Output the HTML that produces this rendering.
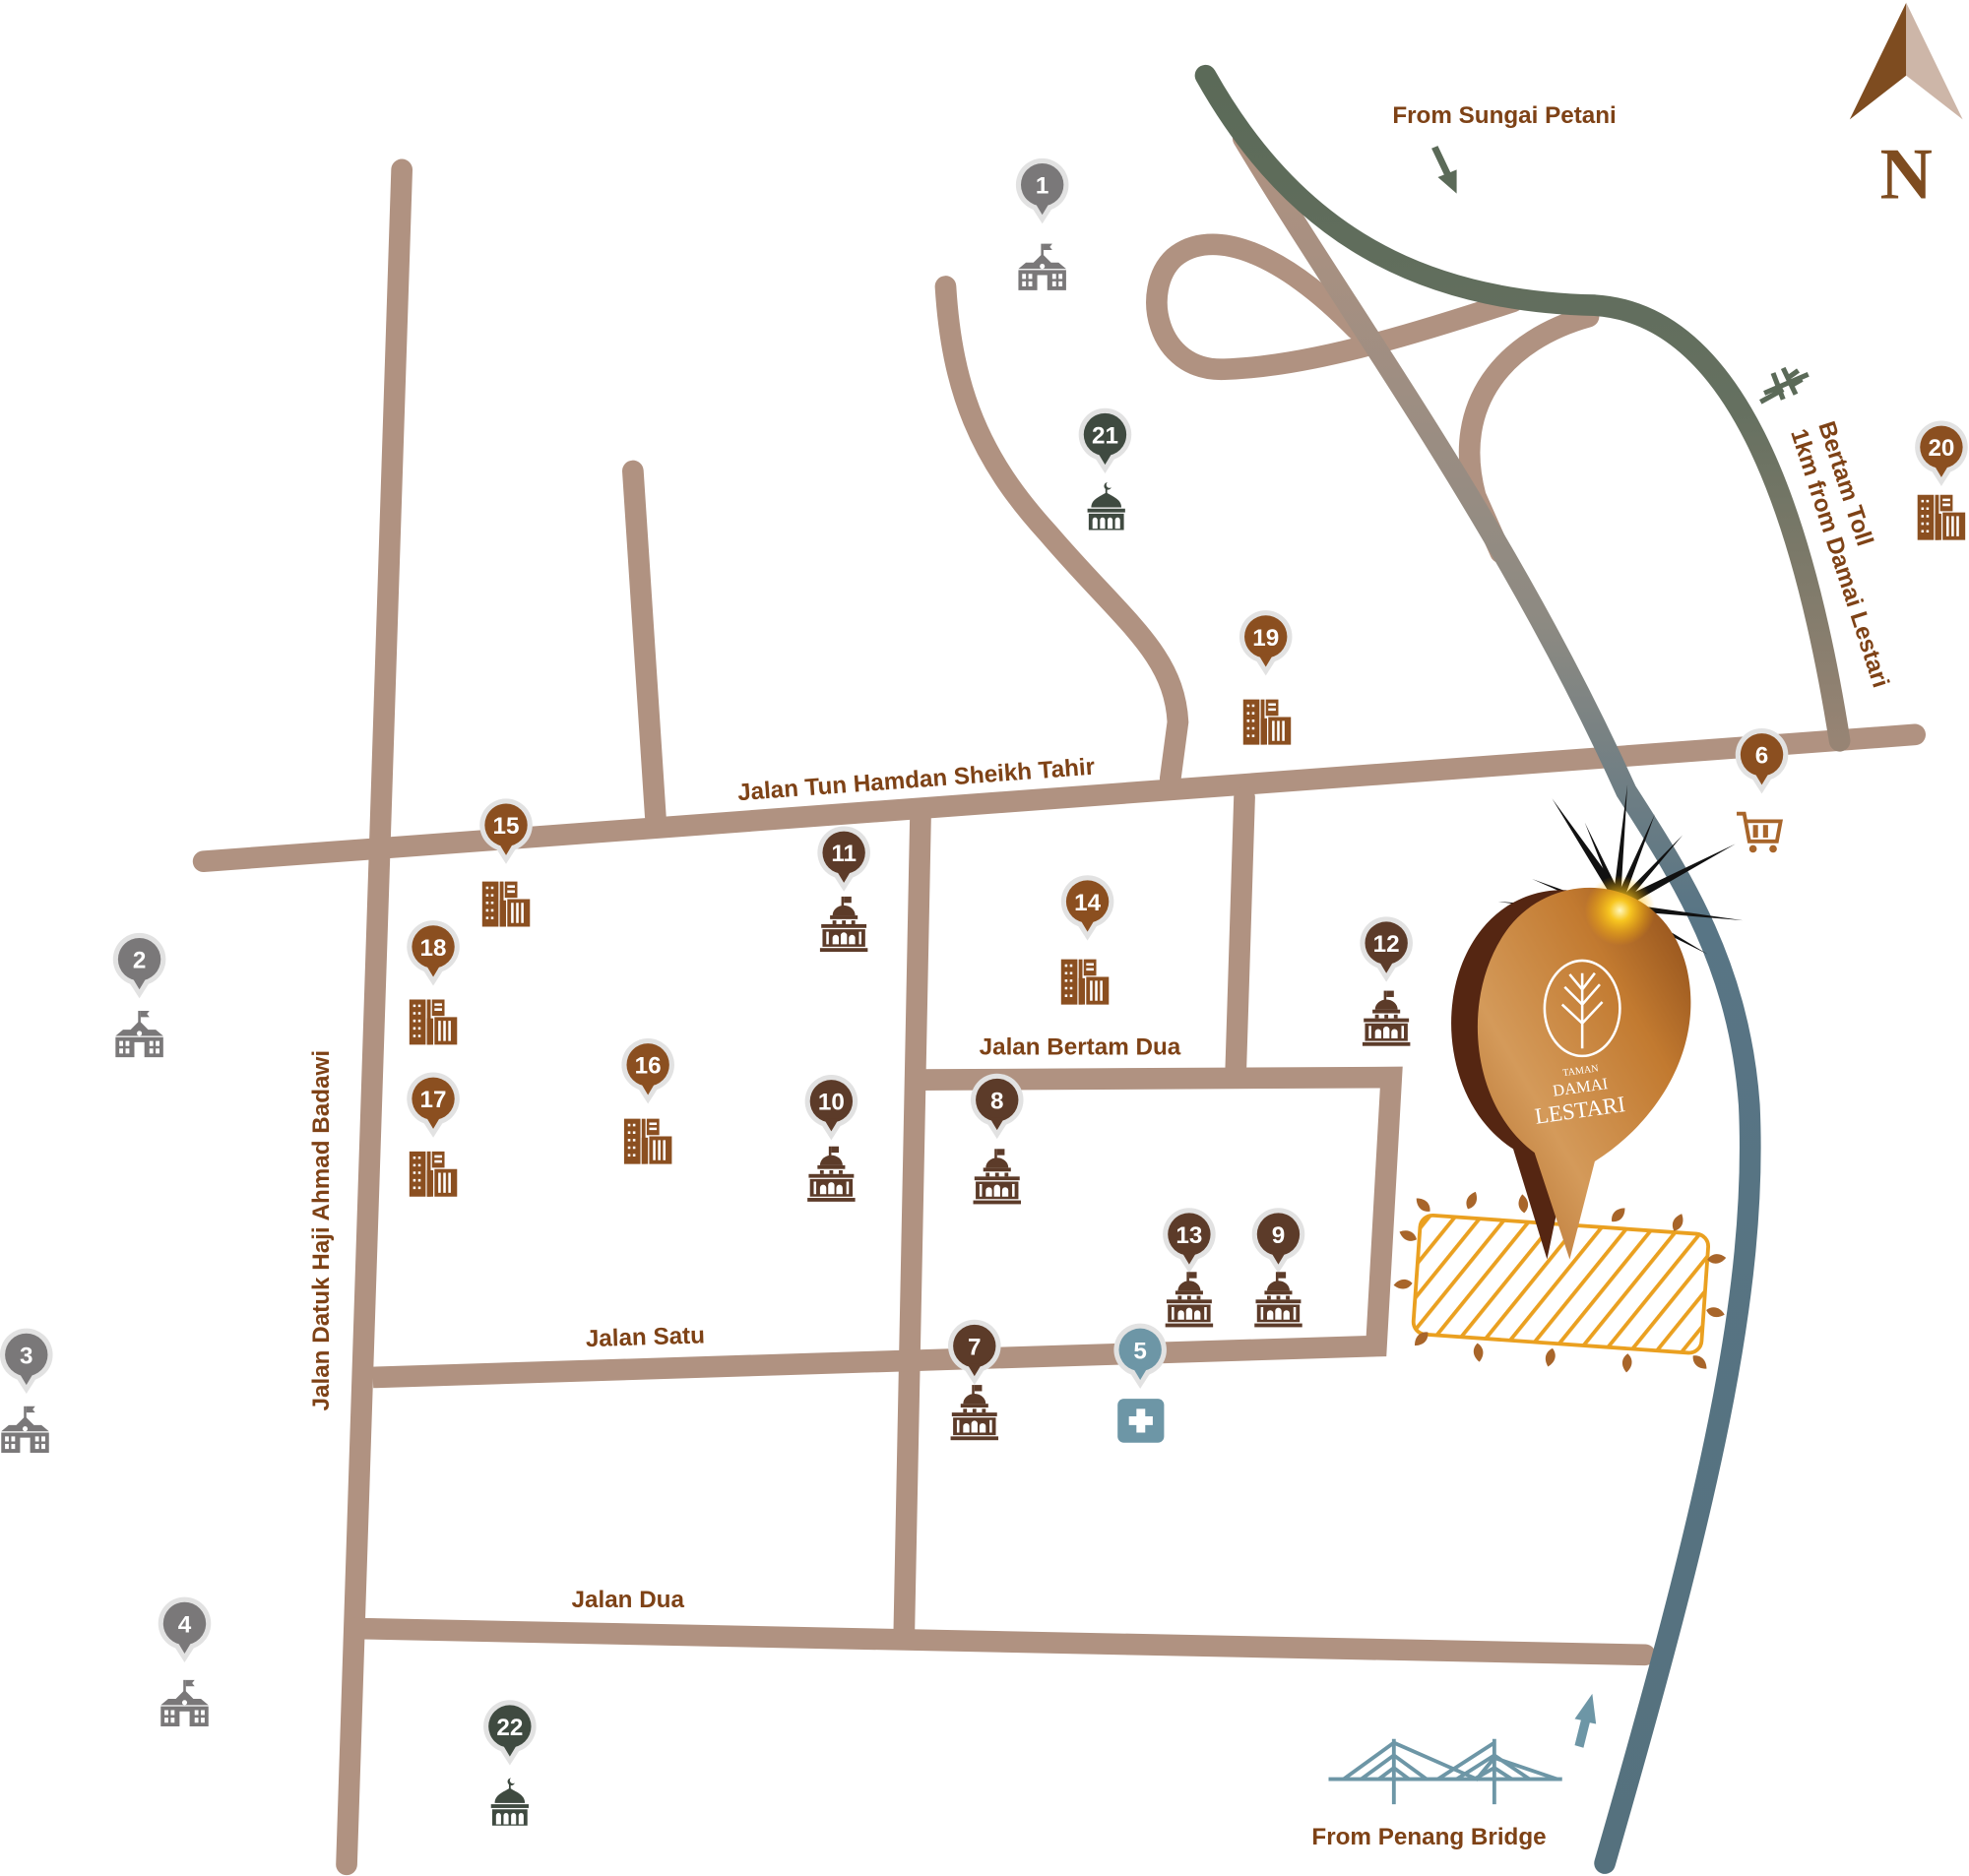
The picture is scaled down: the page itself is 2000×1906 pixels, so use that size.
<!DOCTYPE html>
<html><head><meta charset="utf-8"><style>
html,body{margin:0;padding:0;background:#fff}
svg{display:block}
text{font-family:"Liberation Sans",sans-serif;font-weight:bold}
.lbl{fill:#7e4216;font-size:19px}
.num{fill:#fff;font-size:19px;text-anchor:middle}
</style></head><body>
<svg width="2000" height="1906" viewBox="0 0 1568 1494" xmlns="http://www.w3.org/2000/svg">
<defs>
<linearGradient id="gA" x1="0" y1="0" x2="0" y2="1" gradientUnits="objectBoundingBox">
<stop offset="0" stop-color="#5b6a58"/><stop offset="0.5" stop-color="#657060"/><stop offset="1" stop-color="#978474"/></linearGradient>
<linearGradient id="gB" x1="0" y1="0" x2="0" y2="1">
<stop offset="0" stop-color="#b09281"/><stop offset="0.28" stop-color="#8d8a82"/><stop offset="0.45" stop-color="#587585"/><stop offset="1" stop-color="#55717e"/></linearGradient>
<linearGradient id="gPin" x1="0" y1="1" x2="1" y2="0">
<stop offset="0" stop-color="#b06a28"/><stop offset="0.35" stop-color="#d49a5a"/><stop offset="0.7" stop-color="#c27a30"/><stop offset="1" stop-color="#8a4a18"/></linearGradient>
<radialGradient id="glow"><stop offset="0" stop-color="#fff8c0"/><stop offset="0.3" stop-color="#ffd020" stop-opacity="0.9"/><stop offset="1" stop-color="#ffb000" stop-opacity="0"/></radialGradient>
<pattern id="hatch" width="16" height="16" patternUnits="userSpaceOnUse" patternTransform="rotate(35)">
<rect width="16" height="16" fill="#fff"/><rect width="3" height="16" fill="#eaa020"/></pattern>
<g id="pin"><circle r="21" fill="#e2e2e2"/><path d="M-9,17 L0,31 L9,17Z" fill="#e2e2e2"/><circle r="17"/><path d="M-6,14 L0,24 L6,14Z"/></g>
<g id="gov"><rect x="-2" y="-24" width="2" height="8"/><rect x="0" y="-24" width="6" height="5"/><path d="M-9,-9 A9,8 0 0 1 9,-9Z"/><rect x="-11" y="-9" width="22" height="3"/><rect x="-9" y="-5" width="3" height="3"/><rect x="-1.5" y="-5" width="3" height="3"/><rect x="6" y="-5" width="3" height="3"/><rect x="-18" y="-2" width="36" height="3"/><path d="M-17,2 h34 v14 h-34Z M-14,4 v10 h2 v-10Z M14,4 v10 h-2 v-10Z M-9,14 v-5 a2.5,2.5 0 0 1 5,0 v5Z M-2.5,14 v-7 a2.5,2.5 0 0 1 5,0 v7Z M4,14 v-5 a2.5,2.5 0 0 1 5,0 v5Z" fill-rule="evenodd"/><rect x="-19" y="17" width="38" height="3"/></g>
<g id="bld"><path d="M-19,-17 h13 v36 h-13Z M-16,-13 v2 h2 v-2Z M-12,-13 v2 h2 v-2Z M-16,-7 v2 h2 v-2Z M-12,-7 v2 h2 v-2Z M-16,-1 v2 h2 v-2Z M-12,-1 v2 h2 v-2Z M-16,5 v2 h2 v-2Z M-12,5 v2 h2 v-2Z M-16,11 v2 h2 v-2Z M-12,11 v2 h2 v-2Z" fill-rule="evenodd"/><rect x="-5" y="-17" width="3" height="36"/><rect x="-5" y="-2" width="5" height="21"/><path d="M-1,-17 h10 v13 h-10Z M1,-14 v2 h6 v-2Z M1,-10 v2 h6 v-2Z" fill-rule="evenodd"/><path d="M1,-3 h18 v22 h-18Z M4,0 v16 h2 v-16Z M8,0 v16 h2 v-16Z M12,0 v16 h2 v-16Z" fill-rule="evenodd"/></g>
<g id="sch"><rect x="-1" y="-22" width="2" height="12"/><path d="M1,-22 h7 l-2,2.5 2,2.5 h-7Z"/><path d="M-19,-2 l6,-5 h6 l7,-7 7,7 h6 l6,5Z"/><path d="M-19,-1 h38 v16 h-38Z M-16,2 v4 h3 v-4Z M-11,2 v4 h3 v-4Z M8,2 v4 h3 v-4Z M13,2 v4 h3 v-4Z M-16,8 v4 h3 v-4Z M-11,8 v4 h3 v-4Z M8,8 v4 h3 v-4Z M13,8 v4 h3 v-4Z M-4,3 v12 h8 v-12Z" fill-rule="evenodd"/><circle cx="0" cy="-4" r="2" fill="#fff"/></g>
<g id="msq"><path d="M1,-22 a3,3 0 1 0 3,4 a2.3,2.3 0 1 1 -3,-4Z"/><rect x="-0.7" y="-17" width="1.4" height="4"/><path d="M-12,-2 C-12,-9 -4,-11 0,-14 C4,-11 12,-9 12,-2Z"/><rect x="-15" y="-1" width="30" height="3"/><path d="M-14,3 h28 v13 h-28Z M-11,15 v-7 a2,2 0 0 1 4,0 v7Z M-5,15 v-7 a2,2 0 0 1 4,0 v7Z M1,15 v-7 a2,2 0 0 1 4,0 v7Z M7,15 v-7 a2,2 0 0 1 4,0 v7Z" fill-rule="evenodd"/></g>
<path id="leaf" d="M0,0 C5,-4 5,-10 0,-15 C-5,-10 -5,-4 0,0Z"/>
</defs>

<!-- roads -->
<g fill="none" stroke="#b09281" stroke-width="17" stroke-linecap="round" stroke-linejoin="miter">
<path d="M320,135 L276,1485"/>
<path d="M162,686 L1525,585"/>
<path d="M504,375 L522,650"/>
<path d="M753,228 C758,310 780,365 835,425 C895,495 935,520 938,575 L932,620"/>
<path d="M733,652 L720,1298"/>
<path d="M991,635 L984,856"/>
<path d="M730,860 L1108,858 L1096,1072 L297,1097" stroke-linecap="butt"/>
<path d="M283,1297 L1310,1318"/>
<path d="M1205,240 C1120,268 1040,292 975,294 C920,296 908,230 935,205 C965,180 1020,200 1080,262"/>
<path d="M1265,252 C1200,270 1155,320 1175,395 L1195,440"/>
</g>
<!-- highways -->
<path d="M990,110 C1080,260 1200,420 1295,630 C1340,700 1385,770 1393,880 C1400,1030 1360,1200 1278,1484" fill="none" stroke="url(#gB)" stroke-width="17" stroke-linecap="round"/>
<path d="M960,60 C1030,185 1130,240 1270,243 C1380,250 1435,400 1465,590" fill="none" stroke="url(#gA)" stroke-width="17" stroke-linecap="round"/>

<!-- North -->
<path d="M1518,2 L1473,95 L1518,60Z" fill="#7e4c20"/>
<path d="M1518,2 L1563,95 L1518,60Z" fill="#cdb6a8"/>
<text x="1518" y="158" font-size="58" fill="#7e4c20" text-anchor="middle" style="font-family:'Liberation Serif',serif">N</text>

<!-- labels -->
<text class="lbl" x="1198" y="98" text-anchor="middle">From Sungai Petani</text>
<path d="M1140,118 L1150,139 L1145,141 L1160,154 L1160,135 L1155,137 L1145,116Z" fill="#5b6a58"/>
<text class="lbl" x="1138" y="1469" text-anchor="middle">From Penang Bridge</text>
<path d="M1254,1390 L1259,1370 L1254,1369 L1268,1349 L1271,1373 L1266,1372 L1261,1392Z" fill="#6d96a6"/>
<g stroke="#6d96a6" stroke-width="3" fill="none">
<path d="M1058,1417 H1244"/><path d="M1110,1385 V1437 M1190,1385 V1437"/>
<path d="M1070,1417 L1110,1388 L1176,1417 L1190,1400 L1240,1417"/>
<path d="M1145,1417 L1190,1388 M1084,1417 L1110,1398 L1136,1417 M1098,1417 L1110,1408 L1122,1417 M1160,1417 L1190,1398 L1218,1417 M1174,1417 L1190,1408 L1204,1417 M1176,1417 L1190,1400"/>
</g>
<text class="lbl" transform="translate(730,627) rotate(-4.2)" text-anchor="middle">Jalan Tun Hamdan Sheikh Tahir</text>
<text class="lbl" x="860" y="840" text-anchor="middle">Jalan Bertam Dua</text>
<text class="lbl" transform="translate(514,1071) rotate(-1.8)" text-anchor="middle">Jalan Satu</text>
<text class="lbl" x="500" y="1280" text-anchor="middle">Jalan Dua</text>
<text class="lbl" transform="translate(262,980) rotate(-90)" text-anchor="middle">Jalan Datuk Haji Ahmad Badawi</text>
<text class="lbl" transform="translate(1448,338) rotate(72)" font-size="18">Bertam Toll</text>
<text class="lbl" transform="translate(1426,344) rotate(72)" font-size="18">1km from Damai Lestari</text>
<g stroke="#5b6a58" stroke-width="4" fill="none"><path d="M1405,313 L1440,298 M1402,320 L1420,310 M1412,297 L1420,318 M1420,293 L1430,314 M1425,300 L1432,295 M1428,306 L1435,302"/></g>

<!-- hatched site -->
<g transform="rotate(4 1240 1022)">
<rect x="1128" y="975" width="230" height="95" rx="10" fill="url(#hatch)" stroke="#eaa020" stroke-width="3"/>
<g fill="#a8652a">
<use href="#leaf" transform="translate(1135,972) rotate(-50)"/><use href="#leaf" transform="translate(1165,968) rotate(20)"/><use href="#leaf" transform="translate(1210,968) rotate(-10)"/><use href="#leaf" transform="translate(1280,970) rotate(40)"/><use href="#leaf" transform="translate(1330,974) rotate(20)"/><use href="#leaf" transform="translate(1358,995) rotate(80)"/><use href="#leaf" transform="translate(1360,1035) rotate(100)"/><use href="#leaf" transform="translate(1352,1072) rotate(130)"/><use href="#leaf" transform="translate(1300,1074) rotate(180)"/><use href="#leaf" transform="translate(1240,1074) rotate(190)"/><use href="#leaf" transform="translate(1180,1074) rotate(170)"/><use href="#leaf" transform="translate(1140,1068) rotate(220)"/><use href="#leaf" transform="translate(1125,1030) rotate(260)"/><use href="#leaf" transform="translate(1126,995) rotate(290)"/>
</g></g>

<!-- sparkle -->
<g fill="#111">
<path d="M1290,725 L1236,636 L1296,718Z"/><path d="M1290,725 L1296,625 L1284,720Z"/><path d="M1290,725 L1318,648 L1284,722Z"/><path d="M1290,725 L1382,672 L1286,718Z"/><path d="M1290,725 L1388,733 L1290,719Z"/><path d="M1290,725 L1360,760 L1292,719Z"/><path d="M1290,725 L1193,718 L1290,731Z"/><path d="M1290,725 L1262,655 L1294,720Z"/><path d="M1290,725 L1340,665 L1286,720Z"/><path d="M1290,725 L1220,700 L1290,731Z"/>
</g>
<!-- big pin -->
<path d="M1232,1003 L1205,915 C1150,880 1140,790 1180,740 C1220,690 1300,700 1320,770 C1335,830 1300,890 1248,925Z" fill="#552612"/>
<path d="M1250,1003 L1222,918 C1170,880 1162,790 1202,738 C1242,688 1325,698 1343,770 C1358,832 1322,892 1270,925Z" fill="url(#gPin)"/>
<circle cx="1290" cy="725" r="28" fill="url(#glow)"/>
<ellipse cx="1260" cy="803" rx="30" ry="38" fill="none" stroke="#fff" stroke-width="2"/>
<g stroke="#fff" stroke-width="2" fill="none"><path d="M1260,835 V775 M1260,815 L1244,800 M1260,815 L1276,798 M1260,800 L1246,786 M1260,800 L1274,784 M1260,788 L1250,776 M1260,788 L1270,775"/></g>
<text x="1259" y="855" fill="#fff" font-size="8" text-anchor="middle" style="font-family:'Liberation Serif',serif;font-weight:normal" transform="rotate(-8 1259 855)">TAMAN</text>
<text x="1259" y="870" fill="#fff" font-size="13" text-anchor="middle" style="font-family:'Liberation Serif',serif;font-weight:normal" transform="rotate(-8 1259 870)">DAMAI</text>
<text x="1259" y="890" fill="#fff" font-size="18" text-anchor="middle" style="font-family:'Liberation Serif',serif;font-weight:normal" transform="rotate(-8 1259 890)">LESTARI</text>

<!-- pins -->
<g fill="#7a7879"><use href="#pin" x="830" y="147"/><use href="#pin" x="111" y="764"/><use href="#pin" x="21" y="1079"/><use href="#pin" x="147" y="1293"/></g>
<g fill="#6d96a6"><use href="#pin" x="908" y="1075"/></g>
<g fill="#8b4f20"><use href="#pin" x="1403" y="601"/><use href="#pin" x="866" y="718"/><use href="#pin" x="403" y="657"/><use href="#pin" x="516" y="848"/><use href="#pin" x="345" y="875"/><use href="#pin" x="345" y="754"/><use href="#pin" x="1008" y="507"/><use href="#pin" x="1546" y="356"/></g>
<g fill="#5c3b29"><use href="#pin" x="776" y="1072"/><use href="#pin" x="794" y="876"/><use href="#pin" x="1018" y="983"/><use href="#pin" x="662" y="877"/><use href="#pin" x="672" y="679"/><use href="#pin" x="1104" y="751"/><use href="#pin" x="947" y="983"/></g>
<g fill="#3f4a40"><use href="#pin" x="880" y="346"/><use href="#pin" x="406" y="1375"/></g>
<g>
<text class="num" x="830" y="154">1</text><text class="num" x="111" y="771">2</text><text class="num" x="21" y="1086">3</text><text class="num" x="147" y="1300">4</text><text class="num" x="908" y="1082">5</text><text class="num" x="1403" y="608">6</text><text class="num" x="776" y="1079">7</text><text class="num" x="794" y="883">8</text><text class="num" x="1018" y="990">9</text><text class="num" x="662" y="884">10</text><text class="num" x="672" y="686">11</text><text class="num" x="1104" y="758">12</text><text class="num" x="947" y="990">13</text><text class="num" x="866" y="725">14</text><text class="num" x="403" y="664">15</text><text class="num" x="516" y="855">16</text><text class="num" x="345" y="882">17</text><text class="num" x="345" y="761">18</text><text class="num" x="1008" y="514">19</text><text class="num" x="1546" y="363">20</text><text class="num" x="880" y="353">21</text><text class="num" x="406" y="1382">22</text>
</g>

<!-- icons -->
<g fill="#7a7879"><use href="#sch" x="830" y="216"/><use href="#sch" x="111" y="827"/><use href="#sch" x="20" y="1142"/><use href="#sch" x="147" y="1360"/></g>
<g fill="#5c3b29"><use href="#gov" x="776" y="1127"/><use href="#gov" x="794" y="939"/><use href="#gov" x="1018" y="1037"/><use href="#gov" x="662" y="937"/><use href="#gov" x="672" y="738"/><use href="#gov" x="1104" y="813"/><use href="#gov" x="947" y="1037"/></g>
<g fill="#8b4f20"><use href="#bld" x="864" y="781"/><use href="#bld" x="403" y="719"/><use href="#bld" x="516" y="908"/><use href="#bld" x="345" y="934"/><use href="#bld" x="345" y="813"/><use href="#bld" x="1009" y="574"/><use href="#bld" x="1546" y="411"/></g>
<g fill="#3f4a40"><use href="#msq" x="881" y="406"/><use href="#msq" x="406" y="1438"/></g>
<!-- hospital -->
<rect x="890" y="1114" width="37" height="35" rx="5" fill="#6d96a6"/>
<path d="M905,1122 h7 v6 h6 v7 h-6 v6 h-7 v-6 h-6 v-7 h6Z" fill="#fff"/>
<!-- cart -->
<g fill="none" stroke="#a8652a" stroke-width="3"><path d="M1383,648 h6 l4,22 h22 l3,-16 h-27"/></g>
<g fill="#a8652a"><rect x="1396" y="657" width="4" height="10"/><rect x="1404" y="657" width="4" height="10"/><circle cx="1396" cy="676" r="3"/><circle cx="1412" cy="676" r="3"/></g>
</svg>
</body></html>
